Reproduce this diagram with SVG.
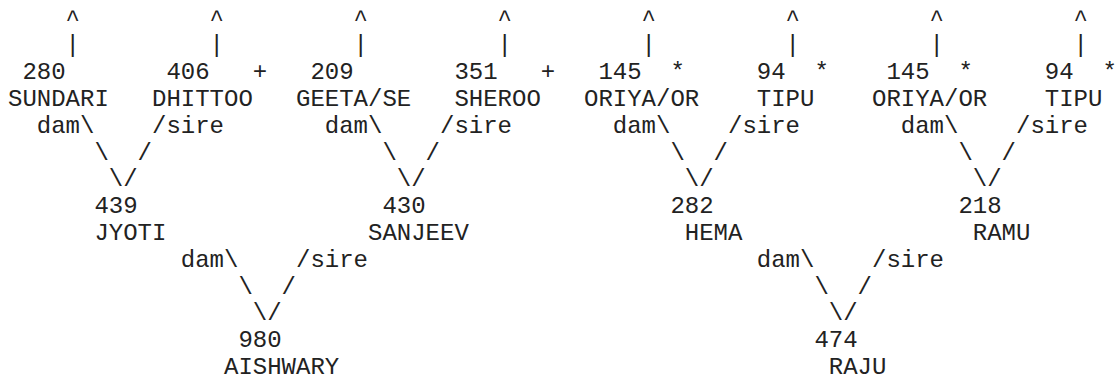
<svg xmlns="http://www.w3.org/2000/svg" width="1118" height="382" viewBox="0 0 1118 382">
<style>
text{font-family:"Liberation Mono","Courier New",monospace;font-size:24px;fill:#222;white-space:pre}
</style>
<rect width="1118" height="382" fill="#fff"/>
<g id="connectors">
  <text x="65.6" y="25.5">^</text><text x="209.6" y="25.5">^</text><text x="353.6" y="25.5">^</text><text x="497.6" y="25.5">^</text>
  <text x="641.6" y="25.5">^</text><text x="785.6" y="25.5">^</text><text x="929.6" y="25.5">^</text><text x="1073.6" y="25.5">^</text>
  <text x="65.6" y="52.3">|</text><text x="209.6" y="52.3">|</text><text x="353.6" y="52.3">|</text><text x="497.6" y="52.3">|</text>
  <text x="641.6" y="52.3">|</text><text x="785.6" y="52.3">|</text><text x="929.6" y="52.3">|</text><text x="1073.6" y="52.3">|</text>
  <text x="36.8" y="132.7">dam\</text><text x="152" y="132.7">/sire</text>
  <text x="94.4" y="159.5">\</text><text x="137.6" y="159.5">/</text>
  <text x="108.8" y="186.3">\/</text>
  <text x="324.8" y="132.7">dam\</text><text x="440" y="132.7">/sire</text>
  <text x="382.4" y="159.5">\</text><text x="425.6" y="159.5">/</text>
  <text x="396.8" y="186.3">\/</text>
  <text x="612.8" y="132.7">dam\</text><text x="728" y="132.7">/sire</text>
  <text x="670.4" y="159.5">\</text><text x="713.6" y="159.5">/</text>
  <text x="684.8" y="186.3">\/</text>
  <text x="900.8" y="132.7">dam\</text><text x="1016" y="132.7">/sire</text>
  <text x="958.4" y="159.5">\</text><text x="1001.6" y="159.5">/</text>
  <text x="972.8" y="186.3">\/</text>
  <text x="180.8" y="266.7">dam\</text><text x="296" y="266.7">/sire</text>
  <text x="238.4" y="293.5">\</text><text x="281.6" y="293.5">/</text>
  <text x="252.8" y="320.3">\/</text>
  <text x="756.8" y="266.7">dam\</text><text x="872" y="266.7">/sire</text>
  <text x="814.4" y="293.5">\</text><text x="857.6" y="293.5">/</text>
  <text x="828.8" y="320.3">\/</text>
</g>
<g id="n-280"><text x="22.4" y="79.1">280</text><text x="8" y="105.9">SUNDARI</text></g>
<g id="n-406"><text x="166.4" y="79.1">406</text><text x="252.8" y="79.1">+</text><text x="152" y="105.9">DHITTOO</text></g>
<g id="n-209"><text x="310.4" y="79.1">209</text><text x="296" y="105.9">GEETA/SE</text></g>
<g id="n-351"><text x="454.4" y="79.1">351</text><text x="540.8" y="79.1">+</text><text x="454.4" y="105.9">SHEROO</text></g>
<g id="n-145a"><text x="598.4" y="79.1">145</text><text x="670.4" y="79.1">*</text><text x="584" y="105.9">ORIYA/OR</text></g>
<g id="n-94a"><text x="756.8" y="79.1">94</text><text x="814.4" y="79.1">*</text><text x="756.8" y="105.9">TIPU</text></g>
<g id="n-145b"><text x="886.4" y="79.1">145</text><text x="958.4" y="79.1">*</text><text x="872" y="105.9">ORIYA/OR</text></g>
<g id="n-94b"><text x="1044.8" y="79.1">94</text><text x="1102.4" y="79.1">*</text><text x="1044.8" y="105.9">TIPU</text></g>
<g id="n-439"><text x="94.4" y="213.1">439</text><text x="94.4" y="239.9">JYOTI</text></g>
<g id="n-430"><text x="382.4" y="213.1">430</text><text x="368" y="239.9">SANJEEV</text></g>
<g id="n-282"><text x="670.4" y="213.1">282</text><text x="684.8" y="239.9">HEMA</text></g>
<g id="n-218"><text x="958.4" y="213.1">218</text><text x="972.8" y="239.9">RAMU</text></g>
<g id="n-980"><text x="238.4" y="347.1">980</text><text x="224" y="373.9">AISHWARY</text></g>
<g id="n-474"><text x="814.4" y="347.1">474</text><text x="828.8" y="373.9">RAJU</text></g>
</svg>
